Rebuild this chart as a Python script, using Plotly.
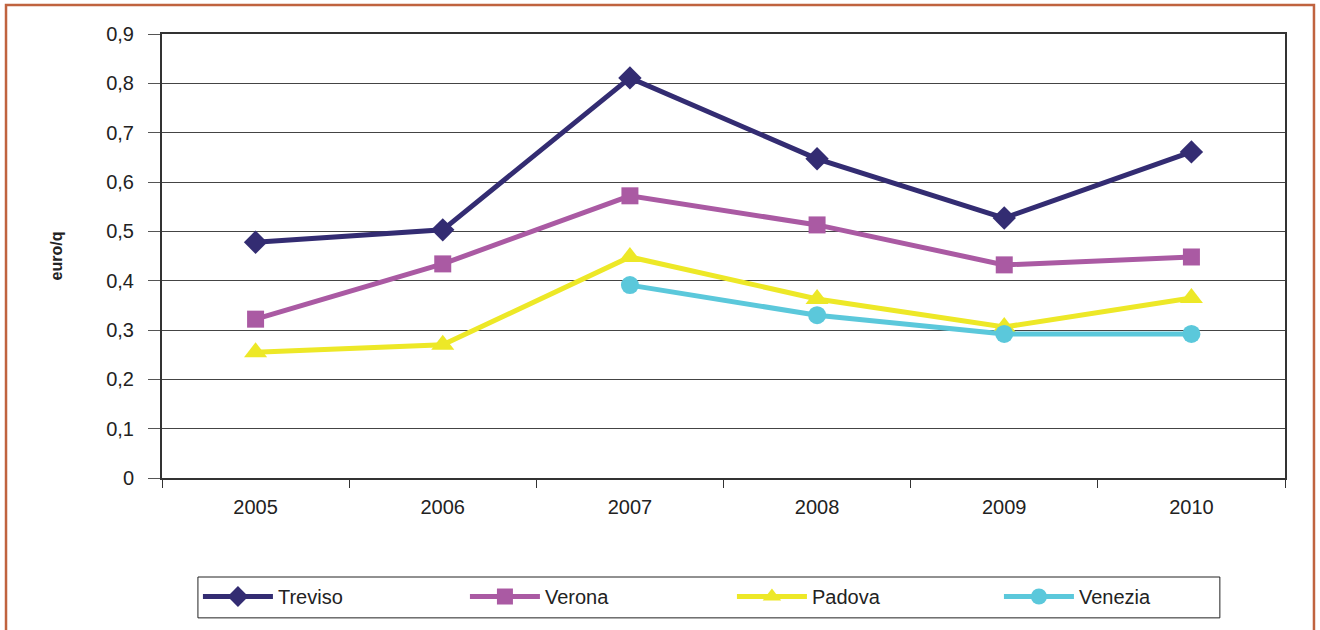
import plotly.graph_objects as go

years = ["2005", "2006", "2007", "2008", "2009", "2010"]
treviso = [0.478, 0.503, 0.811, 0.647, 0.527, 0.661]
verona = [0.322, 0.434, 0.572, 0.513, 0.432, 0.448]
padova = [0.255, 0.270, 0.448, 0.363, 0.306, 0.365]
venezia = [None, None, 0.391, 0.330, 0.292, 0.292]
y_ticks = [0, 0.1, 0.2, 0.3, 0.4, 0.5, 0.6, 0.7, 0.8, 0.9]
y_ticktext = ["0", "0,1", "0,2", "0,3", "0,4", "0,5", "0,6", "0,7", "0,8", "0,9"]

series = [
    ("Treviso", treviso, "#332C72", "diamond", 18),
    ("Verona", verona, "#AA5AA3", "square", 17),
    ("Padova", padova, "#EDE827", "triangle-up", 20),
    ("Venezia", venezia, "#5BC8DB", "circle", 18),
]

fig = go.Figure()
for name, vals, col, sym, sz in series:
    fig.add_trace(go.Scatter(
        x=years, y=vals, name=name, mode="lines+markers",
        line=dict(color=col, width=5),
        marker=dict(symbol=sym, size=sz, color=col),
        connectgaps=False,
    ))

fig.update_layout(
    width=1320, height=630,
    margin=dict(l=162, r=35, t=34, b=152, autoexpand=False),
    paper_bgcolor="white", plot_bgcolor="white",
    font=dict(family="Liberation Sans, Arial, sans-serif", size=20, color="#222"),
    showlegend=True,
    legend=dict(
        orientation="h", x=0.032, y=-0.223, xanchor="left", yanchor="top",
        bgcolor="rgba(0,0,0,0)", borderwidth=0, entrywidth=182, entrywidthmode="pixels",
        font=dict(size=20), itemwidth=70,
    ),
    shapes=[
        dict(type="rect", xref="paper", yref="paper",
             x0=-0.1389, x1=1.0258, y0=-0.5, y1=1.0653,
             line=dict(color="#C0633F", width=2.5), fillcolor="rgba(0,0,0,0)", layer="below"),
        dict(type="rect", xref="paper", yref="paper",
             x0=0.032, x1=0.942, y0=-0.315, y1=-0.223,
             line=dict(color="#222", width=1), fillcolor="rgba(0,0,0,0)", layer="below"),
    ],
)
fig.update_xaxes(
    type="category", range=[-0.5, 5.5], tickson="boundaries", ticks="outside", ticklen=8,
    tickcolor="#333", showgrid=False, showline=True, linecolor="#333", linewidth=1.5,
    mirror=True, tickfont=dict(size=20), zeroline=False, ticklabelstandoff=10,
)
fig.update_yaxes(
    range=[0, 0.9], tickvals=y_ticks, ticktext=y_ticktext, ticks="outside", ticklen=12,
    tickcolor="#555", showgrid=True, gridcolor="#444", gridwidth=1.2,
    showline=True, linecolor="#333", linewidth=2, mirror=True,
    zeroline=False, tickfont=dict(size=20), ticklabelstandoff=10,
    title=dict(text="<b>euro/q</b>", font=dict(size=16), standoff=40),
)
fig.write_html("out.html", config={"displayModeBar": False},
               post_script="document.body.style.margin='0';")
